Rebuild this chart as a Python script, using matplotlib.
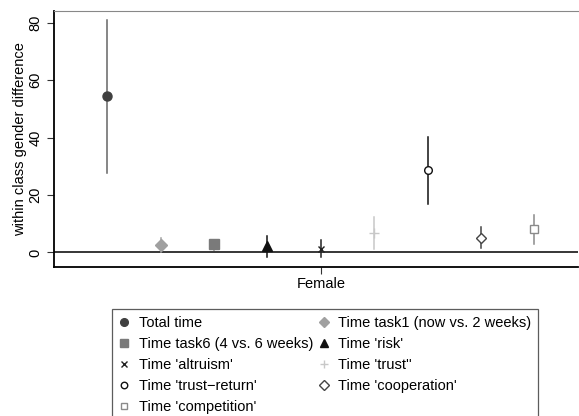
import matplotlib
matplotlib.use("Agg")
import matplotlib.pyplot as plt

plt.rcParams['font.family'] = ['Liberation Sans', 'DejaVu Sans']

labels = ["Total time", "Time task1 (now vs. 2 weeks)", "Time task6 (4 vs. 6 weeks)",
          "Time 'risk'", "Time 'altruism'", "Time 'trust''", "Time 'trust\u2212return'",
          "Time 'cooperation'", "Time 'competition'"]
est = [54.4, 2.5, 2.8, 2.3, 1.3, 6.8, 28.6, 5.2, 8.0]
lo = [27.8, 0.0, 1.0, -1.5, -1.7, 1.3, 16.8, 1.7, 2.9]
hi = [81.0, 5.2, 4.5, 5.7, 4.3, 12.4, 40.2, 8.7, 12.9]

markers = ['o', 'D', 's', '^', 'x', '+', 'o', 'D', 's']
colors = ['#404040', '#a0a0a0', '#7a7a7a', '#111111', '#222222', '#c8c8c8', '#111111', '#444444', '#8a8a8a']
line_colors = ['#666666', '#a0a0a0', '#7a7a7a', '#111111', '#222222', '#c8c8c8', '#111111', '#444444', '#8a8a8a']
filled = [True, True, True, True, True, True, False, False, False]
sizes = [6.5, 6.5, 6.5, 7, 5, 7, 5.5, 5.5, 5.5]

fig = plt.figure(figsize=(5.79, 4.16), dpi=100)
ax = fig.add_axes([0.0933, 0.358, 0.905, 0.616])

handles = []
for i in range(len(est)):
    x = i + 1
    ax.plot([x, x], [lo[i], hi[i]], color=line_colors[i], lw=1.1, zorder=2)
    fc = colors[i] if filled[i] else 'white'
    h, = ax.plot([x], [est[i]], marker=markers[i], ms=sizes[i], color=colors[i],
                 mfc=fc, mec=colors[i], mew=1.0, ls='none', zorder=3)
    handles.append(h)

ax.axhline(0, color='black', lw=1.1, zorder=1)
ax.set_xlim(0, 9.82)
ax.set_ylim(-5.1, 84.2)
ax.set_yticks([0, 20, 40, 60, 80])
ax.set_yticklabels(["0", "20", "40", "60", "80"], rotation=90, va='center', fontsize=10.5)
ax.set_xticks([5])
ax.set_xticklabels(["Female"], fontsize=10.5)
ax.tick_params(axis='both', length=5, width=0.8, color='#333333')
ax.tick_params(axis='x', pad=2)
ax.set_ylabel("within class gender difference", fontsize=10.5, labelpad=1)

ax.spines['left'].set_linewidth(1.3)
ax.spines['bottom'].set_linewidth(1.3)
ax.spines['top'].set_color('#888888')
ax.spines['right'].set_visible(False)

# Stata fills the legend row by row; matplotlib fills by column
order = [0, 2, 4, 6, 8, 1, 3, 5, 7]
leg = fig.legend([handles[i] for i in order], [labels[i] for i in order],
                 ncol=2, loc='upper left', bbox_to_anchor=(0.181, 0.274),
                 fontsize=10.5, frameon=True, fancybox=False, handlelength=0.8,
                 handletextpad=0.6, columnspacing=0.3, labelspacing=0.48,
                 borderpad=0.45, markerscale=0.85)
leg.get_frame().set_edgecolor('#333333')
leg.get_frame().set_linewidth(0.9)

fig.savefig("out.png", dpi=100)
